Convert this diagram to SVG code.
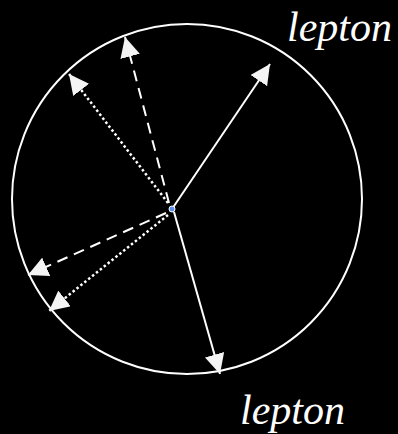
<svg xmlns="http://www.w3.org/2000/svg" width="398" height="434" viewBox="0 0 398 434">
<style>
.ln{stroke:#fff;stroke-width:2;fill:none}
.dash{stroke-dasharray:11 7}
.dot{stroke-width:2.5;stroke-dasharray:2.5 2.5}
.lbl{font-family:"Liberation Serif",serif;font-style:italic;font-size:42px;fill:#fff}
</style>
<defs>
<marker id="ah" viewBox="0 0 20 20" refX="20" refY="10" markerWidth="20" markerHeight="20" markerUnits="userSpaceOnUse" orient="auto">
<path d="M0,0 L20,10 L0,20 z" fill="#f4f4f4"/>
</marker>
</defs>
<rect width="398" height="434" fill="#000"/>
<g id="sphere"><circle cx="187" cy="199" r="175" class="ln" stroke-width="2.5"/></g>
<g id="connectors">
<line class="ln" x1="172" y1="209" x2="270" y2="64" marker-end="url(#ah)"/>
<line class="ln dash" x1="169" y1="203" x2="125" y2="37" marker-end="url(#ah)"/>
<line class="ln dot" x1="168" y1="203" x2="69" y2="74" marker-end="url(#ah)"/>
<line class="ln dash" x1="166" y1="213" x2="28" y2="275" marker-end="url(#ah)"/>
<line class="ln dot" x1="168" y1="215" x2="49" y2="311" marker-end="url(#ah)"/>
<line class="ln" x1="174" y1="212" x2="220" y2="374" marker-end="url(#ah)"/>
</g>
<g id="vertex"><circle cx="172" cy="209" r="3" fill="#5b8ff0" stroke="#fff" stroke-width="1"/></g>
<g id="label-top"><text class="lbl" x="287" y="41">lepton</text></g>
<g id="label-bottom"><text class="lbl" x="240" y="424">lepton</text></g>
</svg>
